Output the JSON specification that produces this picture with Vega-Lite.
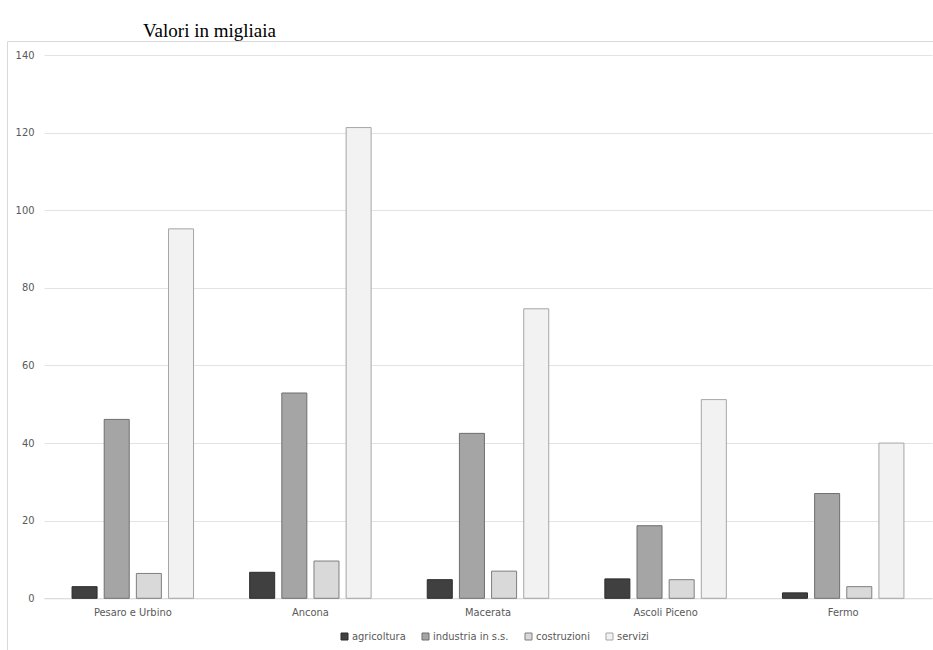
{
  "$schema": "https://vega.github.io/schema/vega-lite/v6.json",
  "width": 940,
  "height": 620,
  "autosize": {"type": "none"},
  "padding": {"left": 7, "top": 41, "right": 0, "bottom": 0},
  "background": "white",
  "title": {
    "text": "Valori in migliaia",
    "font": "Liberation Serif, Times New Roman, serif",
    "fontSize": 19,
    "fontWeight": "normal",
    "color": "#000000",
    "anchor": "start",
    "frame": "group",
    "dx": 136,
    "dy": 18,
    "baseline": "alphabetic",
    "offset": 3
  },
  "data": {
    "values": [
      {"provincia": "Pesaro e Urbino", "settore": "agricoltura", "valore": 3.0},
      {"provincia": "Pesaro e Urbino", "settore": "industria in s.s.", "valore": 46.1},
      {"provincia": "Pesaro e Urbino", "settore": "costruzioni", "valore": 6.4},
      {"provincia": "Pesaro e Urbino", "settore": "servizi", "valore": 95.2},
      {"provincia": "Ancona", "settore": "agricoltura", "valore": 6.7},
      {"provincia": "Ancona", "settore": "industria in s.s.", "valore": 52.9},
      {"provincia": "Ancona", "settore": "costruzioni", "valore": 9.6},
      {"provincia": "Ancona", "settore": "servizi", "valore": 121.3},
      {"provincia": "Macerata", "settore": "agricoltura", "valore": 4.8},
      {"provincia": "Macerata", "settore": "industria in s.s.", "valore": 42.5},
      {"provincia": "Macerata", "settore": "costruzioni", "valore": 7.0},
      {"provincia": "Macerata", "settore": "servizi", "valore": 74.6},
      {"provincia": "Ascoli Piceno", "settore": "agricoltura", "valore": 5.0},
      {"provincia": "Ascoli Piceno", "settore": "industria in s.s.", "valore": 18.7},
      {"provincia": "Ascoli Piceno", "settore": "costruzioni", "valore": 4.8},
      {"provincia": "Ascoli Piceno", "settore": "servizi", "valore": 51.2},
      {"provincia": "Fermo", "settore": "agricoltura", "valore": 1.4},
      {"provincia": "Fermo", "settore": "industria in s.s.", "valore": 27.0},
      {"provincia": "Fermo", "settore": "costruzioni", "valore": 3.0},
      {"provincia": "Fermo", "settore": "servizi", "valore": 40.0}
    ]
  },
  "mark": {"type": "bar", "strokeWidth": 1},
  "encoding": {
    "x": {
      "field": "provincia",
      "type": "nominal",
      "sort": ["Pesaro e Urbino", "Ancona", "Macerata", "Ascoli Piceno", "Fermo"],
      "scale": {"range": [37, 925], "paddingInner": 0.316, "paddingOuter": 0.158},
      "axis": {
        "title": null,
        "orient": "bottom",
        "offset": -62.7,
        "ticks": false,
        "grid": false,
        "domainColor": "#d9d9d9",
        "domainWidth": 1,
        "labelAngle": 0,
        "labelPadding": 8,
        "labelFont": "Liberation Sans Narrow, DejaVu Sans Condensed, Roboto Condensed, Arial Narrow, sans-serif",
        "labelFontSize": 11,
        "labelColor": "#595959"
      }
    },
    "xOffset": {
      "field": "settore",
      "type": "nominal",
      "sort": ["agricoltura", "industria in s.s.", "costruzioni", "servizi"],
      "scale": {"paddingInner": 0.222, "paddingOuter": 0}
    },
    "y": {
      "field": "valore",
      "type": "quantitative",
      "scale": {"domain": [0, 140], "range": [557.3, 14], "nice": false, "zero": true},
      "axis": {
        "title": null,
        "values": [0, 20, 40, 60, 80, 100, 120, 140],
        "domain": false,
        "ticks": false,
        "grid": true,
        "gridColor": "#e3e3e3",
        "gridWidth": 1,
        "offset": -36,
        "labelPadding": 9,
        "labelFont": "Liberation Sans Narrow, DejaVu Sans Condensed, Roboto Condensed, Arial Narrow, sans-serif",
        "labelFontSize": 11,
        "labelColor": "#595959"
      }
    },
    "fill": {
      "field": "settore",
      "type": "nominal",
      "sort": ["agricoltura", "industria in s.s.", "costruzioni", "servizi"],
      "scale": {
        "domain": ["agricoltura", "industria in s.s.", "costruzioni", "servizi"],
        "range": ["#404040", "#a5a5a5", "#d9d9d9", "#f2f2f2"]
      },
      "legend": {"title": null}
    },
    "stroke": {
      "field": "settore",
      "type": "nominal",
      "sort": ["agricoltura", "industria in s.s.", "costruzioni", "servizi"],
      "scale": {
        "domain": ["agricoltura", "industria in s.s.", "costruzioni", "servizi"],
        "range": ["#2b2b2b", "#6f6f6f", "#7f7f7f", "#a6a6a6"]
      },
      "legend": {"title": null}
    }
  },
  "config": {
    "view": {"stroke": "#d9d9d9", "strokeWidth": 1},
    "legend": {
      "orient": "none",
      "legendX": 332,
      "legendY": 590,
      "direction": "horizontal",
      "symbolType": "square",
      "symbolSize": 49,
      "symbolStrokeWidth": 1,
      "labelFont": "Liberation Sans Narrow, DejaVu Sans Condensed, Roboto Condensed, Arial Narrow, sans-serif",
      "labelFontSize": 11,
      "labelColor": "#595959",
      "labelOffset": 2,
      "columnPadding": 14
    }
  }
}
